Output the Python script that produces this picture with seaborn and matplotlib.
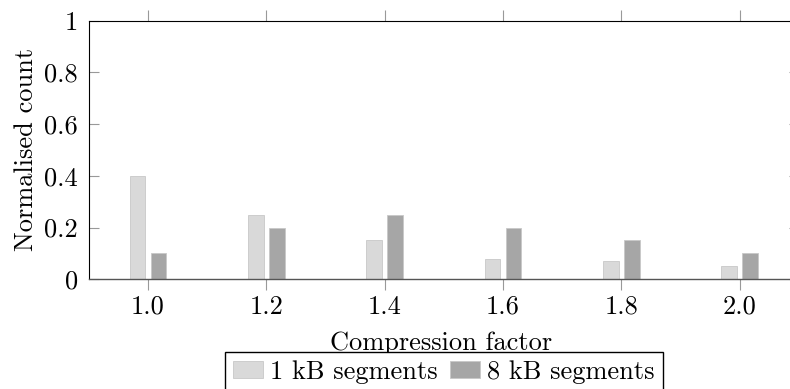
import matplotlib
matplotlib.use("Agg")
import matplotlib.pyplot as plt
import pandas as pd
import seaborn as sns

# values
compression = [1.0, 1.2, 1.4, 1.6, 1.8, 2.0]
seg_1kb = [0.40, 0.25, 0.15, 0.08, 0.07, 0.05]
seg_8kb = [0.10, 0.20, 0.25, 0.20, 0.15, 0.10]
series_names = ["1 kB segments", "8 kB segments"]
series_colors = ["#d9d9d9", "#a6a6a6"]
x_ticks = [1.0, 1.2, 1.4, 1.6, 1.8, 2.0]
x_tick_labels = ["1.0", "1.2", "1.4", "1.6", "1.8", "2.0"]
y_ticks = [0, 0.2, 0.4, 0.6, 0.8, 1.0]
y_tick_labels = ["0", "0.2", "0.4", "0.6", "0.8", "1"]

plt.rcParams.update({
    "font.family": "cmr10",
    "mathtext.fontset": "cm",
    "axes.formatter.use_mathtext": True,
    "font.size": 19,
})

df = pd.DataFrame({
    "compression": compression + compression,
    "count": seg_1kb + seg_8kb,
    "series": [series_names[0]] * len(seg_1kb) + [series_names[1]] * len(seg_8kb),
})

W, H = 790, 389
fig = plt.figure(figsize=(W / 100, H / 100), dpi=100)
ax = fig.add_axes([88.9 / W, 1 - 279.3 / H, (798.7 - 88.9) / W, (279.3 - 20.5) / H])

sns.barplot(
    data=df,
    x="compression",
    y="count",
    hue="series",
    hue_order=series_names,
    palette=dict(zip(series_names, series_colors)),
    native_scale=True,
    width=0.356,
    gap=0.25,
    errorbar=None,
    saturation=1,
    linewidth=0.6,
    edgecolor="#c8c8c8",
    ax=ax,
)

ax.set_xlim(0.9, 2.1)
ax.set_ylim(0, 1)
ax.set_xticks(x_ticks, labels=x_tick_labels)
ax.set_yticks(y_ticks, labels=y_tick_labels)
ax.tick_params(axis="x", direction="out", length=7.7, width=0.8, color="#999999",
               top=True, bottom=True, labeltop=False, pad=3.6)
ax.tick_params(axis="y", direction="in", length=7.5, width=0.8, color="#999999",
               left=True, right=True, labelright=False, pad=8)
for side in ["top", "left", "right"]:
    ax.spines[side].set_color("black")
    ax.spines[side].set_linewidth(0.8)
ax.spines["bottom"].set_color("#555555")
ax.spines["bottom"].set_linewidth(1.0)

ax.set_xlabel("Compression factor")
ax.xaxis.set_label_coords(0.496, -0.20)
ax.set_ylabel("Normalised count")
ax.yaxis.set_label_coords(-0.0724, 0.5)

handles, labels = ax.get_legend_handles_labels()
ax.get_legend().remove()
fig.legend(
    handles, labels,
    loc="upper center",
    bbox_to_anchor=(444 / W, 1 - 352 / H),
    borderaxespad=0,
    ncol=2,
    frameon=True,
    fancybox=False,
    edgecolor="black",
    framealpha=1,
    handlelength=1.15,
    handleheight=0.62,
    handletextpad=0.27,
    columnspacing=0.45,
    borderpad=0.3,
)

fig.savefig("out.png", dpi=100)
